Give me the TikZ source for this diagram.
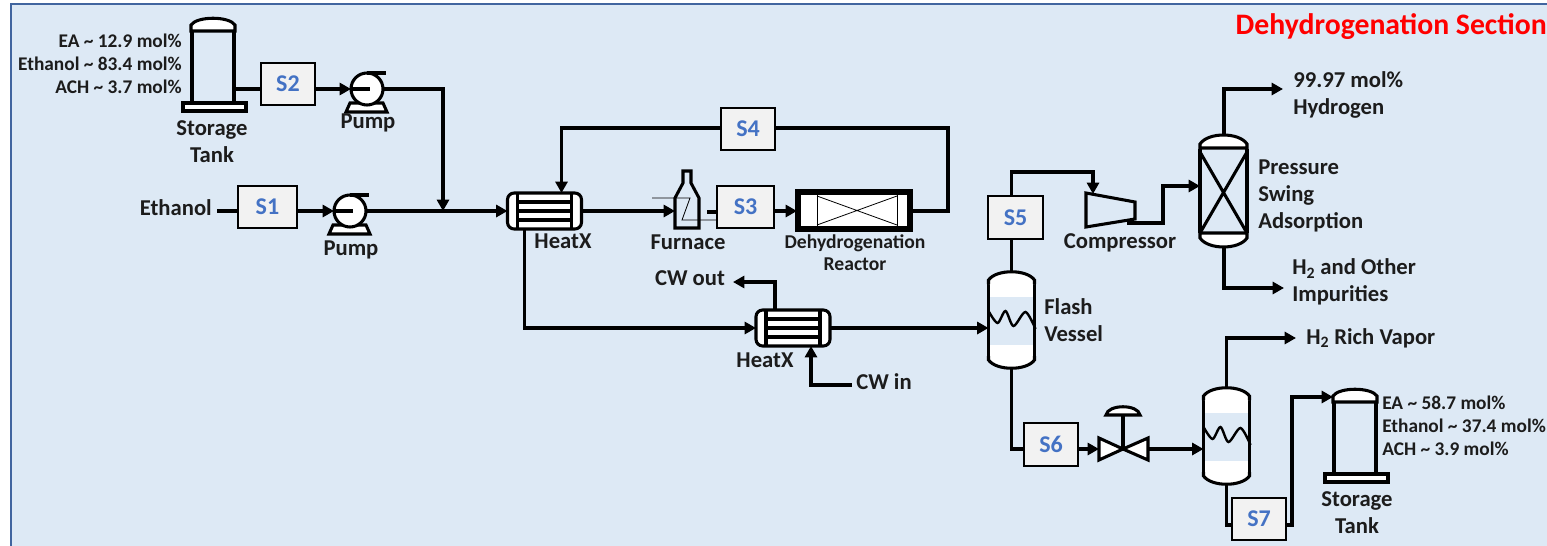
\documentclass[tikz,border=0pt]{standalone}
\usepackage{fontspec}
\setmainfont{Carlito}
\usepackage{xcolor}
\usepackage{tikz}
\usetikzlibrary{calc,arrows.meta}
\definecolor{panel}{HTML}{DDE9F5}
\definecolor{edge}{HTML}{41659F}
\definecolor{boxfill}{HTML}{F2F2F2}
\definecolor{stream}{HTML}{4472C4}
\definecolor{ink}{HTML}{1C1C1C}
\tikzset{
  line/.style={draw=black, line width=2.3pt, line join=miter},
  flow/.style={line, -{Triangle[length=8.5pt,width=9pt]}},
  thinline/.style={draw=black, line width=0.6pt},
  vessel/.style={draw=black, line width=2.3pt, fill=white},
  sbox/.style={draw=black, line width=1.5pt, fill=boxfill, text=stream, outer sep=0pt,
    minimum width=41pt, minimum height=32pt, font=\fontsize{18}{20}\selectfont\bfseries},
  lbl/.style={text=ink, inner sep=0pt, font=\fontsize{17}{20.2}\selectfont\bfseries},
  slbl/.style={text=ink, inner sep=0pt, font=\fontsize{14.5}{17.2}\selectfont\bfseries},
  rlbl/.style={text=ink, inner sep=0pt, font=\fontsize{14.7}{16.5}\selectfont\bfseries},
  pumpunit/.pic={
    \draw[vessel] (-21,23) -- (-17,14) -- (16,14) -- (20,23) -- cycle;
    \draw[vessel] (0,0) circle[radius=16];
    \draw[line] (0,-16) -- (19,-16);
    \draw[line] (-15,0) -- (3,0);
    \coordinate (-in) at (-16,0);
    \coordinate (-out) at (16,0);
  },
  tankunit/.pic={
    \draw[line] (-21,0) -- (-21,71) (21,0) -- (21,71);
    \draw[vessel] (-22,0) -- (-22,-6) .. controls (-16,-15) and (16,-15) .. (22,-6) -- (22,0) -- cycle;
    \draw[vessel] (-30,72) rectangle (33,80);
    \coordinate (-side) at (21,58);
    \coordinate (-dome) at (-22,-5);
  },
  exchanger/.pic={
    \draw[vessel, rounded corners=5pt] (-37,-18) rectangle (37,18);
    \draw[line] (-27,-18) -- (-27,18) (27,-18) -- (27,18);
    \draw[line] (-27,-9) -- (27,-9) (-27,0) -- (27,0) (-27,9) -- (27,9);
    \coordinate (-w) at (-37,0);
    \coordinate (-e) at (37,0);
    \coordinate (-n1) at (-18,-18);
    \coordinate (-n2) at (17,-18);
    \coordinate (-s1) at (-20,18);
    \coordinate (-s2) at (18,18);
  },
  flashunit/.pic={
    \fill[white] (-23,-36) rectangle (23,36);
    \fill[panel] (-23,-23) rectangle (23,25);
    \draw[line] (-23,-36) -- (-23,36) (23,-36) -- (23,36);
    \draw[vessel] (-23,-36) -- (-23,-40) .. controls (-15,-51) and (15,-51) .. (23,-40) -- (23,-36);
    \draw[vessel] (-23,36) -- (-23,40) .. controls (-15,51) and (15,51) .. (23,40) -- (23,36);
    \draw[line, line width=1.8pt] plot[smooth] coordinates {(-23,-9) (-14,3) (-6,-9) (2,6) (14,-8) (24,9)};
    \coordinate (-n) at (0,-48);
    \coordinate (-s) at (0,48);
    \coordinate (-w) at (-23,0);
  }
}

\begin{document}
\begin{tikzpicture}[x=0.75pt,y=-0.75pt]
  \useasboundingbox (0,0) rectangle (1547,546);
  \draw[draw=edge, line width=1.5pt, fill=panel] (11,4) rectangle (1565,565);

  % stream boxes
  \node[sbox, minimum width=44pt] (S1) at (267.5,207) {S1};
  \node[sbox] (S2) at (288,84) {S2};
  \node[sbox, minimum width=42.5pt] (S3) at (745.5,207) {S3};
  \node[sbox] (S4) at (748,129) {S4};
  \node[sbox] (S5) at (1015.5,217.5) {S5};
  \node[sbox] (S6) at (1051,444.5) {S6};
  \node[sbox] (S7) at (1259,519) {S7};

  % reactor, furnace, compressor, adsorber
  \coordinate (ReactorW) at (797,211);
  \coordinate (ReactorE) at (911,211);
  \coordinate (FurnaceW) at (675,211);
  \coordinate (FurnaceE) at (717,212);
  \coordinate (CompIn) at (1093,194);
  \coordinate (CompOut) at (1127,223);
  \coordinate (PsaW) at (1200,186);
  \coordinate (PsaN) at (1224,135);
  \coordinate (PsaS) at (1224,247);
  \coordinate (ValveW) at (1099,449);
  \coordinate (ValveE) at (1148,449);
  \coordinate (EthanolIn) at (217,211);
  \coordinate (Hout) at (1283,89);
  \coordinate (Iout) at (1284,288);
  \coordinate (Vout) at (1296,338);
  \coordinate (CWoutEnd) at (733,282);
  \coordinate (CWinEnd) at (852,385);

  % equipment that sits on the lines
  \pic (T1) at (213,31) {tankunit};
  \pic (T2) at (1355,402) {tankunit};
  \pic (P2) at (367,89) {pumpunit};
  \pic (P1) at (350,211) {pumpunit};
  \pic (X1) at (544.5,211) {exchanger};
  \pic (X2) at (793,328) {exchanger};
  \pic (F1) at (1011.5,320) {flashunit};
  \pic (F2) at (1226.5,436) {flashunit};

  % connectors
  \draw[line] (T1-side) -- (T1-side -| S2.west);
  \draw[flow] (T1-side -| S2.east) -- (P2-in);
  \draw[flow] (P2-out) -- (443,89) -- (443,211);
  \draw[line] (EthanolIn) -- (EthanolIn -| S1.west);
  \draw[flow] (EthanolIn -| S1.east) -- (P1-in);
  \draw[flow] (P1-out) -- (X1-w);
  \draw[flow] (X1-e) -- (FurnaceW);
  \draw[line] (707,212) -- (FurnaceE);
  \draw[flow, line width=2.8pt] (S3.east |- ReactorW) -- (ReactorW);
  \draw[line] (ReactorE) -- (948,211) -- (948,128) -- (S4.east |- 948,128);
  \draw[flow] (S4.west |- 948,128) -- (X1-n2 |- 948,128) -- (X1-n2);
  \draw[flow] (X1-s1) -- (X1-s1 |- X2-w) -- (X2-w);
  \draw[flow] (X2-e) -- (X2-e -| F1-w);
  \draw[flow] (X2-n1) -- (X2-n1 |- CWoutEnd) -- (CWoutEnd);
  \draw[flow] (CWinEnd) -- (X2-s2 |- CWinEnd) -- (X2-s2);
  \draw[line] (F1-n) -- (F1-n |- S5.south);
  \draw[flow] (F1-n |- S5.north) -- (1011.5,172) -- (1093,172) -- (CompIn);
  \draw[flow] (CompOut) -- (1163,223) -- (1163,186) -- (PsaW);
  \draw[flow] (PsaN) -- (PsaN |- Hout) -- (Hout);
  \draw[flow] (PsaS) -- (PsaS |- Iout) -- (Iout);
  \draw[line] (F1-s) -- (F1-s |- 0,449) -- (S6.west |- 0,449);
  \draw[flow] (S6.east |- 0,449) -- (ValveW);
  \draw[flow] (ValveE) -- (F2-w |- ValveE);
  \draw[flow] (F2-n) -- (F2-n |- Vout) -- (Vout);
  \draw[line] (F2-s) -- (F2-s |- 0,525) -- (S7.west |- 0,525);
  \draw[flow] (S7.east |- 0,525) -- (1292,525) -- (1292,397) -- (T2-dome);

  % furnace
  \draw[line] (683,171) -- (691,171) -- (691,183) -- (699,198) -- (699,228) -- (675,228) -- (675,198) -- (683,183) -- cycle;
  \draw[thinline] (652,198) -- (690,198) -- (682,220) -- (S3.west |- 0,220);

  % reactor
  \draw[draw=black, line width=4pt, fill=white] (798,192) rectangle (910,229);
  \draw[thinline] (817,194) -- (817,227) (897,194) -- (897,227);
  \draw[thinline] (817,225) -- (897,196) (817,196) -- (897,225);

  % compressor
  \draw[line] (1086,193) -- (1135,202) -- (1135,219) -- (1086,227) -- cycle;

  % adsorber
  \draw[line] (1200,149) -- (1200,233) (1247,149) -- (1247,233);
  \draw[line] (1200,152) -- (1247,233) (1247,152) -- (1200,233);
  \draw[vessel] (1200,148) -- (1200,144) .. controls (1208,132) and (1239,132) .. (1247,144) -- (1247,148) -- cycle;
  \draw[vessel] (1200,233) -- (1200,238) .. controls (1208,250) and (1239,250) .. (1247,238) -- (1247,233) -- cycle;

  % valve
  \draw[vessel] (ValveW |- 0,438) -- (1123,449) -- (ValveW |- 0,460) -- cycle;
  \draw[vessel] (ValveE |- 0,438) -- (1123,449) -- (ValveE |- 0,460) -- cycle;
  \draw[line] (1123,449) -- (1123,415);
  \draw[vessel] (1106,415) .. controls (1108,404) and (1138,404) .. (1140,415) -- cycle;

  % labels
  \node[slbl, anchor=east, align=right] (FeedComp) at (182,64) {EA \textasciitilde{} 12.9 mol\%\\Ethanol \textasciitilde{} 83.4 mol\%\\ACH \textasciitilde{} 3.7 mol\%};
  \node[slbl, anchor=west, align=left] (TankComp) at (1382,425.5) {EA \textasciitilde{} 58.7 mol\%\\Ethanol \textasciitilde{} 37.4 mol\%\\ACH \textasciitilde{} 3.9 mol\%};
  \node[lbl, align=center] (Tank1Lbl) at (212,142) {Storage\\Tank};
  \node[lbl, align=center] (Tank2Lbl) at (1357,513) {Storage\\Tank};
  \node[lbl] (Pump2Lbl) at (368,123) {Pump};
  \node[lbl] (Pump1Lbl) at (351,250) {Pump};
  \node[lbl, anchor=east] (EthanolLbl) at (212,208) {Ethanol};
  \node[lbl] (X1Lbl) at (563,241) {HeatX};
  \node[lbl] (X2Lbl) at (765,360) {HeatX};
  \node[lbl] (FurnaceLbl) at (688,242) {Furnace};
  \node[rlbl, align=center] (ReactorLbl) at (855,253) {Dehydrogenation\\Reactor};
  \node[lbl] (CWoutLbl) at (690,278) {CW out};
  \node[lbl] (CWinLbl) at (884,382) {CW in};
  \node[lbl, anchor=west, align=left] (FlashLbl) at (1044,320) {Flash\\Vessel};
  \node[lbl] (CompLbl) at (1120,243) {Compressor};
  \node[lbl, anchor=west, align=left] (PsaLbl) at (1258,196) {Pressure\\Swing\\Adsorption};
  \node[lbl, anchor=west, align=left] (HydroLbl) at (1293,95) {99.97 mol\%\\Hydrogen};
  \node[lbl, anchor=west, align=left] (ImpLbl) at (1292,282) {H\textsubscript{2} and Other\\Impurities};
  \node[lbl, anchor=west] (VaporLbl) at (1306,338) {H\textsubscript{2} Rich Vapor};
  \node[anchor=east, inner sep=0pt, text=red, font=\fontsize{22.3}{24}\selectfont\bfseries] (TitleLbl) at (1547,27) {Dehydrogenation Section};
\end{tikzpicture}
\end{document}
